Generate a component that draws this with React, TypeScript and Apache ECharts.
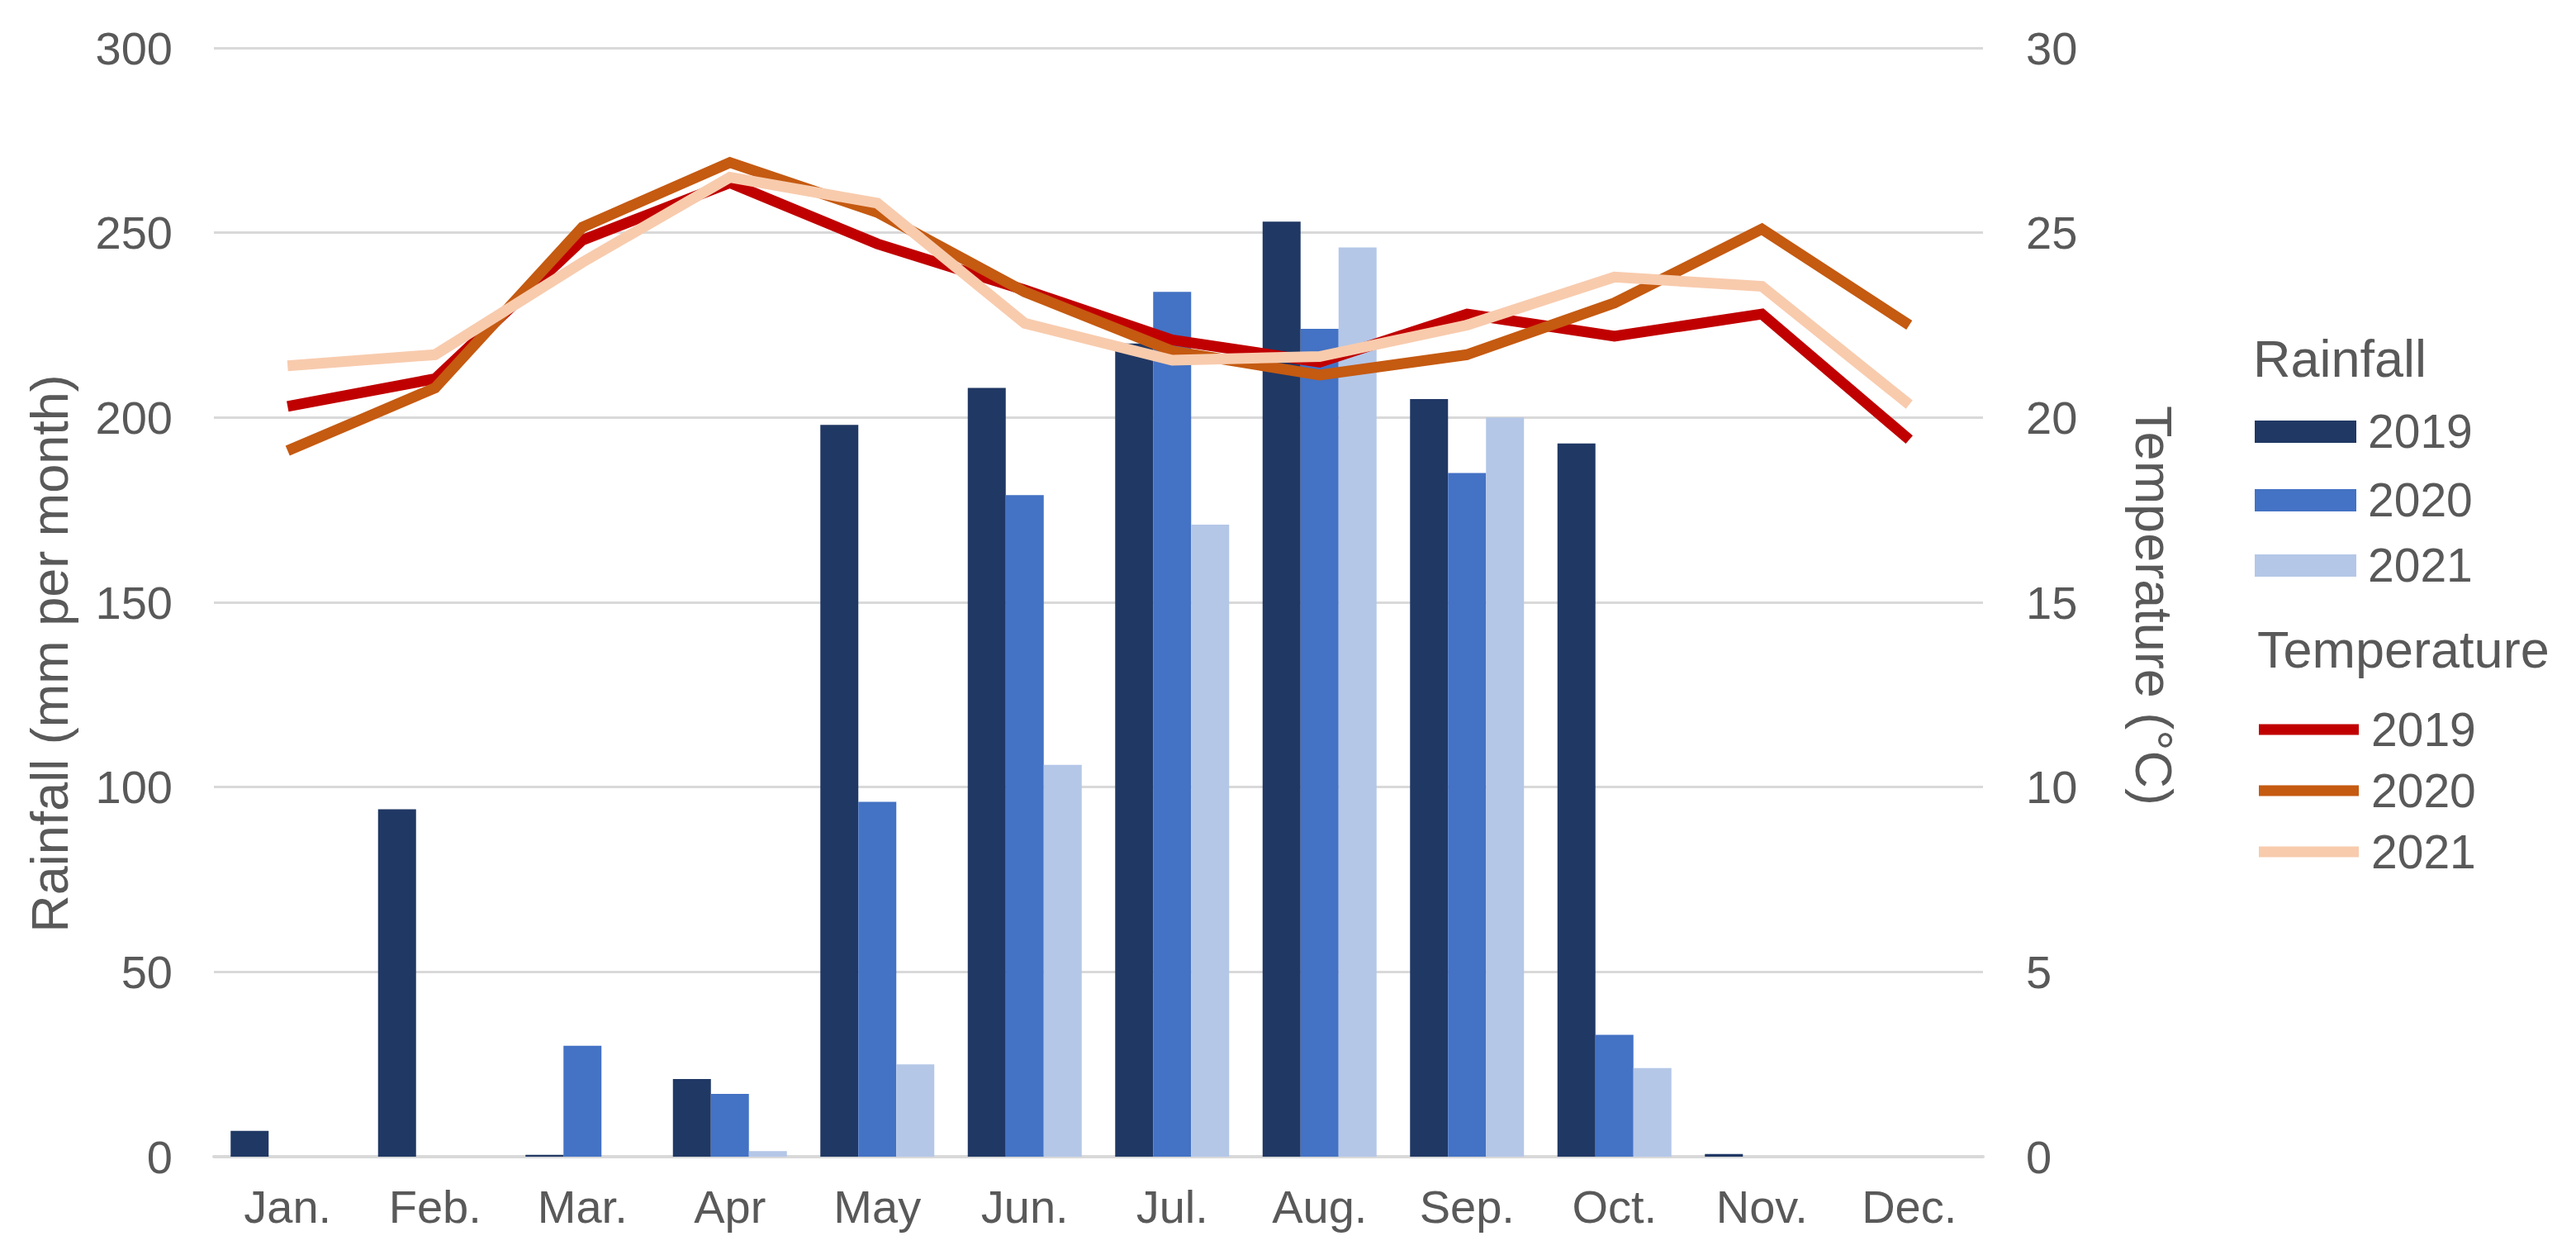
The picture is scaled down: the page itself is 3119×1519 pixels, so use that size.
import React, { useEffect, useRef } from "react";
import * as echarts from "echarts";

const months = ["Jan.", "Feb.", "Mar.", "Apr", "May", "Jun.", "Jul.", "Aug.", "Sep.", "Oct.", "Nov.", "Dec."];
const years = ["2019", "2020", "2021"];
const rain2019 = [7, 94, 0.5, 21, 198, 208, 220, 253, 205, 193, 0.7, 0];
const rain2020 = [0, 0, 30, 17, 96, 179, 234, 224, 185, 33, 0, 0];
const rain2021 = [0, 0, 0, 1.5, 25, 106, 171, 246, 200, 24, 0, 0];
const temp2019 = [20.3, 21.05, 24.8, 26.35, 24.7, 23.45, 22.1, 21.5, 22.8, 22.2, 22.8, 19.4];
const temp2020 = [19.1, 20.8, 25.15, 26.9, 25.55, 23.4, 21.8, 21.15, 21.7, 23.1, 25.1, 22.5];
const temp2021 = [21.4, 21.7, 24.2, 26.5, 25.8, 22.55, 21.55, 21.65, 22.5, 23.8, 23.55, 20.35];
const rainTicks = [0, 50, 100, 150, 200, 250, 300];
const tempTicks = [0, 5, 10, 15, 20, 25, 30];

const barColors = ["#203864", "#4472C4", "#B4C7E7"];
const lineColors = ["#C00000", "#C55A11", "#F8CBAD"];
const FONT = "'Liberation Sans', Arial, sans-serif";
const TXT = "#595959";

export default function App() {
  const ref = useRef<HTMLDivElement>(null);
  useEffect(() => {
    if (!ref.current) return;
    const chart = echarts.init(ref.current, null, { renderer: "svg" });
    const rains = [rain2019, rain2020, rain2021];
    const temps = [temp2019, temp2020, temp2021];

    const legendGraphics: any[] = [];
    legendGraphics.push({
      type: "text", x: 2728, y: 434,
      style: { text: "Rainfall", fill: TXT, font: `63px ${FONT}`, verticalAlign: "middle", align: "left" },
    });
    const barY = [522, 605, 684];
    years.forEach((y, i) => {
      legendGraphics.push({ type: "rect", shape: { x: 2730, y: barY[i] - 13, width: 123, height: 27 }, style: { fill: barColors[i] } });
      legendGraphics.push({ type: "text", x: 2867, y: barY[i], style: { text: y, fill: TXT, font: `57px ${FONT}`, verticalAlign: "middle", align: "left" } });
    });
    legendGraphics.push({
      type: "text", x: 2733, y: 786,
      style: { text: "Temperature", fill: TXT, font: `63px ${FONT}`, verticalAlign: "middle", align: "left" },
    });
    const lineY = [883, 957, 1031];
    years.forEach((y, i) => {
      legendGraphics.push({ type: "rect", shape: { x: 2735, y: lineY[i] - 6.5, width: 121, height: 13 }, style: { fill: lineColors[i] } });
      legendGraphics.push({ type: "text", x: 2871, y: lineY[i], style: { text: y, fill: TXT, font: `57px ${FONT}`, verticalAlign: "middle", align: "left" } });
    });
    legendGraphics.push({
      type: "text", x: 60, y: 791, rotation: Math.PI / 2,
      style: { text: "Rainfall (mm per month)", fill: TXT, font: `63px ${FONT}`, align: "center", verticalAlign: "middle" },
    });
    legendGraphics.push({
      type: "text", x: 2608, y: 733, rotation: -Math.PI / 2,
      style: { text: "Temperature (°C)", fill: TXT, font: `63px ${FONT}`, align: "center", verticalAlign: "middle" },
    });

    chart.setOption({
      animation: false,
      backgroundColor: "#ffffff",
      grid: { left: 259, top: 58, width: 2142, height: 1342, containLabel: false },
      xAxis: {
        type: "category",
        data: months,
        axisLine: { lineStyle: { color: "#D9D9D9", width: 4 } },
        axisTick: { show: false },
        axisLabel: { color: TXT, fontSize: 56, fontFamily: FONT, margin: 32 },
      },
      yAxis: [
        {
          type: "value", min: rainTicks[0], max: rainTicks[rainTicks.length - 1], interval: 50,
          axisLine: { show: false }, axisTick: { show: false },
          splitLine: { lineStyle: { color: "#D9D9D9", width: 3 } },
          axisLabel: { color: TXT, fontSize: 56, fontFamily: FONT, margin: 50 },
        },
        {
          type: "value", min: tempTicks[0], max: tempTicks[tempTicks.length - 1], interval: 5,
          axisLine: { show: false }, axisTick: { show: false },
          splitLine: { show: false },
          axisLabel: { color: TXT, fontSize: 56, fontFamily: FONT, margin: 52 },
        },
      ],
      series: [
        ...years.map((y, i) => ({
          name: y, type: "bar", yAxisIndex: 0, data: rains[i],
          itemStyle: { color: barColors[i] },
          barGap: "0%", barCategoryGap: "22.7%",
        })),
        ...years.map((y, i) => ({
          name: y, type: "line", yAxisIndex: 1, data: temps[i],
          symbol: "none", smooth: false,
          lineStyle: { color: lineColors[i], width: 13, join: "miter" },
          itemStyle: { color: lineColors[i] },
        })),
      ],
      graphic: legendGraphics,
    });
    return () => chart.dispose();
  }, []);
  return <div ref={ref} style={{ position: "absolute", left: 0, top: 0, width: 3119, height: 1519 }} />;
}
